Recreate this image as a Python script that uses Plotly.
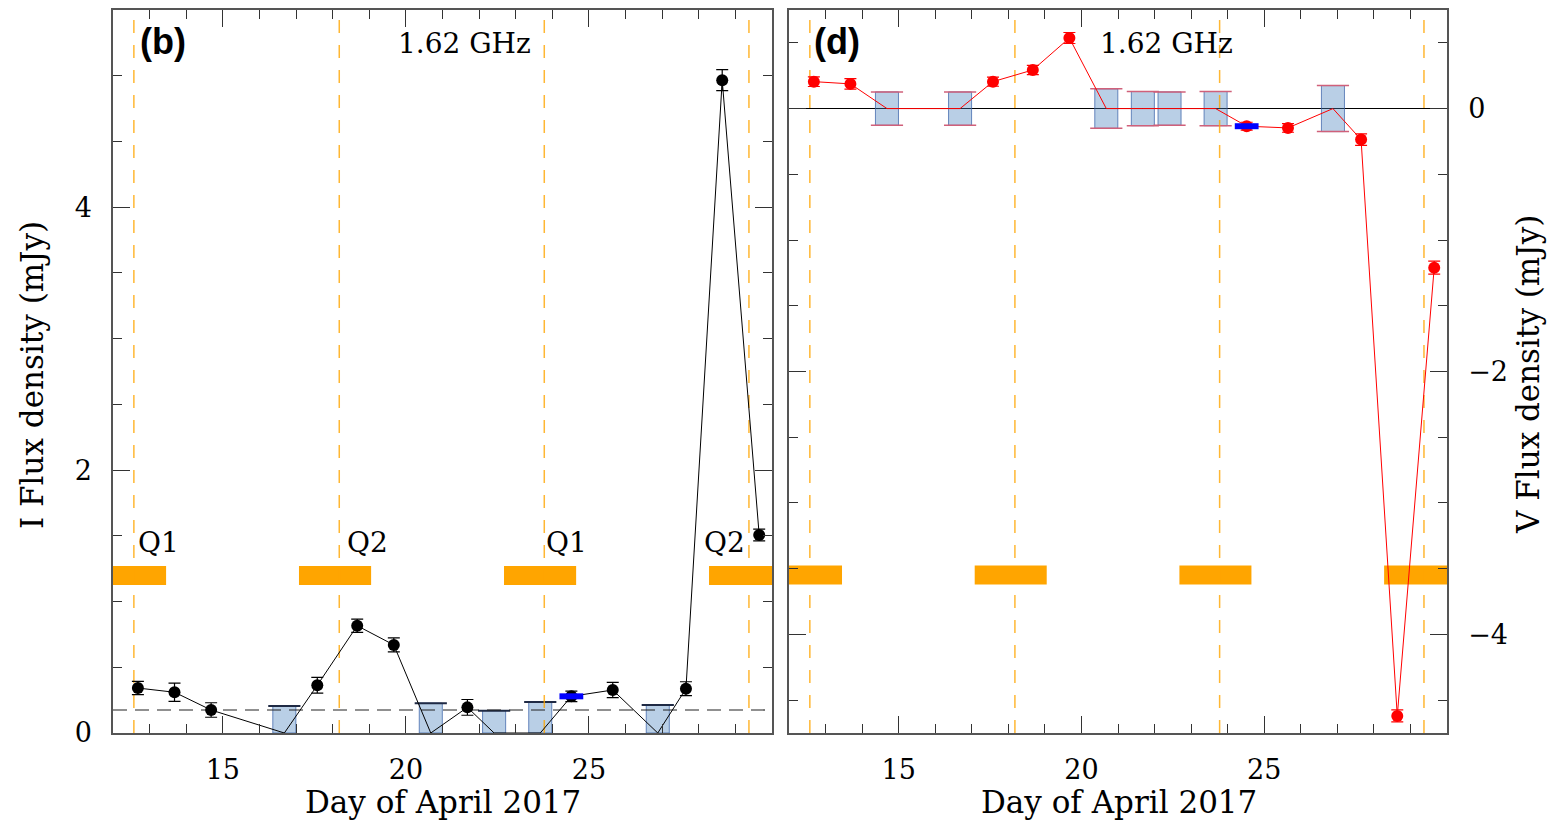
import plotly.graph_objects as go

# Observing epochs (day of April 2017)
days = [12.68, 13.68, 14.68, 16.68, 17.58, 18.67, 19.67, 20.68, 21.68,
        22.41, 23.67, 24.52, 25.65, 26.88, 27.65, 28.64, 29.65]

# Stokes I detections (mJy), 1-sigma errors, and upper limits for non-detections
i_flux = [0.342, 0.31, 0.175, None, 0.363, 0.816, 0.67, None, 0.195,
          None, None, 0.279, 0.327, None, 0.337, 4.966, 1.506]
i_err = [0.05, 0.07, 0.055, None, 0.06, 0.05, 0.053, None, 0.06,
         None, None, 0.04, 0.058, None, 0.053, 0.08, 0.045]
i_lim = [None, None, None, 0.205, None, None, None, 0.227, None,
         0.17, 0.236, None, None, 0.213, None, None, None]

# Stokes V detections (mJy), errors, and +/- limits for non-detections
v_flux = [0.205, 0.188, None, None, 0.205, 0.294, 0.537, None, None,
          None, None, -0.134, -0.147, None, -0.236, -4.62, -1.21]
v_err = [0.037, 0.04, None, None, 0.035, 0.035, 0.042, None, None,
         None, None, 0.03, 0.033, None, 0.044, 0.046, 0.05]
v_lim = [None, None, 0.127, 0.127, None, None, None, 0.15, 0.13,
         0.127, 0.13, None, None, 0.175, None, None, None]

# Epoch observed with a different array configuration (highlighted in blue)
alt_index = 11

# Stokes I detection threshold
i_threshold = 0.175

# Quadrature phases: dashed epochs, shaded windows and labels
quad_days = [12.57, 18.18, 23.78, 29.37]
quad_start = [11.48, 17.08, 22.68, 28.28]
quad_width = 1.97
quad_names = ["Q1", "Q2", "Q1", "Q2"]
quad_label_day = [13.23, 18.95, 24.40, 28.69]

x_range = [12, 30]
i_range = [0, 5.5]
v_range = [-4.75, 0.75]

SERIF = "DejaVu Serif"
BOX_FILL = "rgba(70,128,190,0.38)"
BOX_EDGE = "rgba(60,100,170,0.75)"
ORANGE = "#FFA500"
BOX_W = 0.63

fig = go.Figure()


def vlines(xs, yr):
    xx, yy = [], []
    for d in xs:
        xx += [d, d, None]
        yy += [yr[0], yr[1], None]
    return xx, yy


def add_panel(xa, ya, flux, err, yr, color, bar_y0, bar_h):
    # quadrature dashed epochs
    qx, qy = vlines(quad_days, yr)
    fig.add_trace(go.Scatter(x=qx, y=qy, mode="lines", xaxis=xa, yaxis=ya,
                             line=dict(color="rgba(255,165,0,0.8)", width=1.5,
                                       dash="13px,12px"),
                             hoverinfo="skip", showlegend=False))
    # quadrature windows
    fig.add_trace(go.Bar(x=[s + quad_width / 2 for s in quad_start],
                         y=[bar_h] * len(quad_start), base=bar_y0,
                         width=quad_width, xaxis=xa, yaxis=ya,
                         marker=dict(color=ORANGE, line=dict(width=0)),
                         showlegend=False))
    # connecting line; non-detections drawn at zero
    fig.add_trace(go.Scatter(x=days, y=[f if f is not None else 0 for f in flux],
                             mode="lines", xaxis=xa, yaxis=ya,
                             line=dict(color=color, width=1),
                             showlegend=False))
    # detections with error bars
    dx = [d for d, f in zip(days, flux) if f is not None]
    dy = [f for f in flux if f is not None]
    de = [e for e in err if e is not None]
    fig.add_trace(go.Scatter(x=dx, y=dy, mode="markers", xaxis=xa, yaxis=ya,
                             marker=dict(color=color, size=12),
                             error_y=dict(type="data", array=de, color=color,
                                          thickness=1.2, width=6),
                             showlegend=False))
    # highlighted epoch
    fig.add_trace(go.Scatter(x=[days[alt_index]], y=[flux[alt_index]],
                             mode="markers", xaxis=xa, yaxis=ya,
                             marker=dict(symbol="line-ew", size=17,
                                         line=dict(color="blue", width=6)),
                             showlegend=False))


# ---- left panel: Stokes I ----
lim_days = [d for d, l in zip(days, i_lim) if l is not None]
lim_vals = [l for l in i_lim if l is not None]
fig.add_trace(go.Bar(x=lim_days, y=lim_vals, base=0, width=BOX_W,
                     xaxis="x", yaxis="y",
                     marker=dict(color=BOX_FILL, line=dict(color=BOX_EDGE, width=1)),
                     showlegend=False))
fig.add_trace(go.Scatter(x=lim_days, y=lim_vals, mode="markers",
                         xaxis="x", yaxis="y",
                         marker=dict(symbol="line-ew", size=23,
                                     line=dict(color="#1f2a44", width=2)),
                         showlegend=False))
fig.add_trace(go.Scatter(x=x_range, y=[i_threshold, i_threshold], mode="lines",
                         xaxis="x", yaxis="y",
                         line=dict(color="#222", width=1.2, dash="14px,8px"),
                         showlegend=False))
add_panel("x", "y", i_flux, i_err, i_range, "black", 1.125, 0.145)

# ---- right panel: Stokes V ----
vl_days = [d for d, l in zip(days, v_lim) if l is not None]
vl_vals = [l for l in v_lim if l is not None]
fig.add_trace(go.Bar(x=vl_days, y=[2 * l for l in vl_vals],
                     base=[-l for l in vl_vals], width=BOX_W,
                     xaxis="x2", yaxis="y2",
                     marker=dict(color=BOX_FILL, line=dict(color=BOX_EDGE, width=1)),
                     showlegend=False))
fig.add_trace(go.Scatter(x=vl_days + vl_days, y=vl_vals + [-l for l in vl_vals],
                         mode="markers", xaxis="x2", yaxis="y2",
                         marker=dict(symbol="line-ew", size=23,
                                     line=dict(color="#d0607a", width=1.5)),
                         showlegend=False))
add_panel("x2", "y2", v_flux, v_err, v_range, "red", -3.62, 0.145)

tickfont = dict(family=SERIF, size=27, color="black")


def xaxis_cfg(domain, anchor):
    return dict(domain=domain, anchor=anchor, range=x_range, automargin=False,
                tickmode="array", tickvals=[15, 20, 25],
                ticks="inside", ticklen=17, tickwidth=1.2, tickcolor="#333",
                minor=dict(tickmode="linear", tick0=12, dtick=1, ticklen=9,
                           ticks="inside", tickwidth=1.2, tickcolor="#333",
                           showgrid=False),
                showline=True, linecolor="#555", linewidth=1.5,
                mirror="allticks", showgrid=False, zeroline=False,
                tickfont=tickfont, ticklabelstandoff=12)


def yaxis_cfg(domain, anchor, rng, vals, text, side, zero):
    return dict(domain=domain, anchor=anchor, range=rng, side=side,
                automargin=False,
                tickmode="array", tickvals=vals, ticktext=text,
                ticks="inside", ticklen=17, tickwidth=1.2, tickcolor="#333",
                minor=dict(tickmode="linear", tick0=0, dtick=0.5, ticklen=9,
                           ticks="inside", tickwidth=1.2, tickcolor="#333",
                           showgrid=False),
                showline=True, linecolor="#555", linewidth=1.5,
                mirror="allticks", showgrid=False,
                zeroline=zero, zerolinecolor="black", zerolinewidth=1,
                tickfont=tickfont, ticklabelstandoff=14)


W, H = 1548, 820
xd1 = [113 / W, 772 / W]
xd2 = [789 / W, 1447 / W]
yd = [87 / H, 810 / H]

fig.update_layout(
    width=W, height=H, margin=dict(l=0, r=0, t=0, b=0, autoexpand=False),
    paper_bgcolor="white", plot_bgcolor="white",
    barmode="overlay", showlegend=False,
    xaxis=xaxis_cfg(xd1, "y"),
    xaxis2=xaxis_cfg(xd2, "y2"),
    yaxis=yaxis_cfg(yd, "x", i_range, [0, 2, 4], ["0", "2", "4"], "left", False),
    yaxis2=yaxis_cfg(yd, "x2", v_range, [0, -2, -4], ["0", "\u22122", "\u22124"],
                     "right", True),
)

ann = []
label_font = dict(family=SERIF, size=28, color="black")
title_font = dict(family=SERIF, size=31, color="black")


def note(x, y, xref, yref, text, font, angle=0):
    return dict(x=x, y=y, xref=xref, yref=yref, text=text, showarrow=False,
                xanchor="center", yanchor="middle", textangle=angle, font=font)


for name, d in zip(quad_names, quad_label_day):
    ann.append(note(d, 1.45, "x", "y", name, label_font))
tag_font = dict(family="Liberation Sans", size=36, color="black")
ann.append(note(0.076, 0.956, "x domain", "y domain", "<b>(b)</b>", tag_font))
ann.append(note(0.073, 0.956, "x2 domain", "y2 domain", "<b>(d)</b>", tag_font))
ann.append(note(0.533, 0.953, "x domain", "y domain", "1.62 GHz", label_font))
ann.append(note(0.574, 0.953, "x2 domain", "y2 domain", "1.62 GHz", label_font))
for cx in [443.5 / W, 1118.5 / W]:
    ann.append(note(cx, 1 - 802 / H, "paper", "paper", "Day of April 2017",
                    title_font))
ann.append(note(32 / W, 1 - 375 / H, "paper", "paper", "I Flux density (mJy)",
                title_font, -90))
ann.append(note(1528 / W, 1 - 375 / H, "paper", "paper", "V Flux density (mJy)",
                title_font, -90))
fig.update_layout(annotations=ann)

fig.write_html("out.html")
